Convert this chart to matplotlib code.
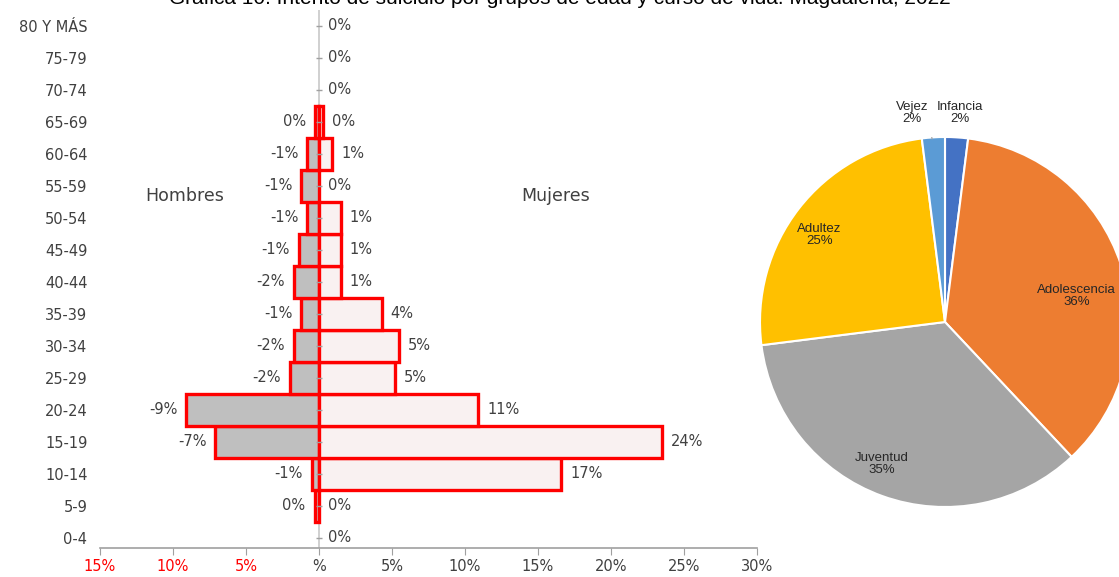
import matplotlib
matplotlib.use("Agg")
import matplotlib.pyplot as plt
import numpy as np

plt.rcParams['font.family'] = ['DejaVu Sans']

# ---------------- data ----------------
age_groups = ["0-4", "5-9", "10-14", "15-19", "20-24", "25-29", "30-34", "35-39",
              "40-44", "45-49", "50-54", "55-59", "60-64", "65-69", "70-74", "75-79", "80 Y MÁS"]
hombres = [0.0, -0.3, -0.5, -7.1, -9.1, -2.0, -1.7, -1.2, -1.7, -1.4, -0.8, -1.2, -0.8, -0.25, 0.0, 0.0, 0.0]
mujeres = [0.0, 0.0, 16.6, 23.5, 10.9, 5.2, 5.5, 4.3, 1.5, 1.5, 1.5, 0.0, 0.9, 0.25, 0.0, 0.0, 0.0]
hombres_lbl = [None, "0%", "-1%", "-7%", "-9%", "-2%", "-2%", "-1%", "-2%", "-1%", "-1%", "-1%", "-1%", "0%", None, None, None]
mujeres_lbl = ["0%", "0%", "17%", "24%", "11%", "5%", "5%", "4%", "1%", "1%", "1%", "0%", "1%", "0%", "0%", "0%", "0%"]
x_ticks = [-15, -10, -5, 0, 5, 10, 15, 20, 25, 30]
x_tick_labels = ["15%", "10%", "5%", "%", "5%", "10%", "15%", "20%", "25%", "30%"]

ciclo = ["Infancia", "Adolescencia", "Juventud", "Adultez", "Vejez"]
ciclo_pct = [2, 36, 35, 25, 2]
ciclo_colors = ["#4472c4", "#ed7d31", "#a5a5a5", "#ffc000", "#5b9bd5"]

title = "Gráfica 10. Intento de suicidio por grupos de edad y curso de vida. Magdalena, 2022"

# ---------------- figure ----------------
W, H = 1119, 577
fig = plt.figure(figsize=(W / 100, H / 100), dpi=100)
fig.patch.set_facecolor("white")

txt_col = "#404040"

# pyramid axes: x from -15 (px 100) to 30 (px 757); rows: index 0 at 538 px, index 16 at 26 px
row_px = 32.0
y0_px = 538
ylim_lo = -(548 - 538) / row_px
ylim_hi = 16 + (26 - 10) / row_px
top_px = y0_px - ylim_hi * row_px
bot_px = y0_px - ylim_lo * row_px
ax = fig.add_axes([100 / W, 1 - bot_px / H, 657 / W, (bot_px - top_px) / H])
ax.set_xlim(-15, 30)
ax.set_ylim(ylim_lo, ylim_hi)

y = np.arange(len(age_groups))
ax.axvline(0, color="#c8c8c8", lw=1.2, zorder=1)
ih = [i for i, v in enumerate(hombres) if v != 0]
im = [i for i, v in enumerate(mujeres) if v != 0]
ax.barh(y[ih], [hombres[i] for i in ih], height=1.0, color="#bfbfbf",
        edgecolor="#ff0000", linewidth=2.4, zorder=2)
ax.barh(y[im], [mujeres[i] for i in im], height=1.0, color="#f9f1f1",
        edgecolor="#ff0000", linewidth=2.4, zorder=2)
# small tick marks on the centre axis
ax.plot(np.full(len(y), 0.0), y, marker="_", ms=4, color="#a0a0a0", ls="none", zorder=3)

for yi, v, lab in zip(y, hombres, hombres_lbl):
    if lab:
        ax.annotate(lab, (v, yi), xytext=(-9, 0), textcoords="offset pixels",
                    ha="right", va="center", fontsize=10.5, color=txt_col)
for yi, v, lab in zip(y, mujeres, mujeres_lbl):
    ax.annotate(lab, (max(v, 0), yi), xytext=(9, 0), textcoords="offset pixels",
                ha="left", va="center", fontsize=10.5, color=txt_col)

ax.set_yticks(y)
ax.set_yticklabels(age_groups, fontsize=10.5, color=txt_col)
ax.tick_params(axis="y", length=0, pad=9)
ax.set_xticks(x_ticks)
ax.set_xticklabels(x_tick_labels, fontsize=10.5)
for t, v in zip(ax.get_xticklabels(), x_ticks):
    t.set_color("#ff0000" if v < 0 else txt_col)
ax.tick_params(axis="x", direction="out", length=5, color="#a0a0a0", pad=3)
for s in ["top", "right", "left"]:
    ax.spines[s].set_visible(False)
ax.spines["bottom"].set_color("#a0a0a0")
ax.spines["bottom"].set_linewidth(1.2)

ax.text(-9.2, 10.69, "Hombres", fontsize=12.5, color=txt_col, ha="center", va="center")
ax.text(16.2, 10.69, "Mujeres", fontsize=12.5, color=txt_col, ha="center", va="center")

# pie axes: centre (945, 322) px, radius 185 px
cx, cy, r = 945, 322, 185
pax = fig.add_axes([(cx - r) / W, 1 - (cy + r) / H, 2 * r / W, 2 * r / H])
pax.pie(ciclo_pct, colors=ciclo_colors, startangle=90, counterclock=False,
        wedgeprops=dict(edgecolor="white", linewidth=1.5))
pax.set_xlim(-1, 1)
pax.set_ylim(-1, 1)
pax.set_aspect("equal")
pax.axis("off")

label_pos = {"Infancia": (0.08, 1.13), "Adolescencia": (0.71, 0.14), "Juventud": (-0.34, -0.77),
             "Adultez": (-0.68, 0.47), "Vejez": (-0.18, 1.13)}
for name, pct in zip(ciclo, ciclo_pct):
    px, py = label_pos[name]
    pax.text(px, py, f"{name}\n{pct}%", ha="center", va="center", fontsize=9.5,
             color="#262626", linespacing=1.0, family="Liberation Sans")
pax.plot([-0.11, -0.08, -0.07], [1.05, 1.05, 0.99], color="#a0a0a0", lw=0.8)

fig.text(560 / W, 1 - 4 / H, title, ha="center", va="baseline", fontsize=15,
         color="black", family="Liberation Sans")

fig.savefig("out.png", dpi=100, facecolor="white")
